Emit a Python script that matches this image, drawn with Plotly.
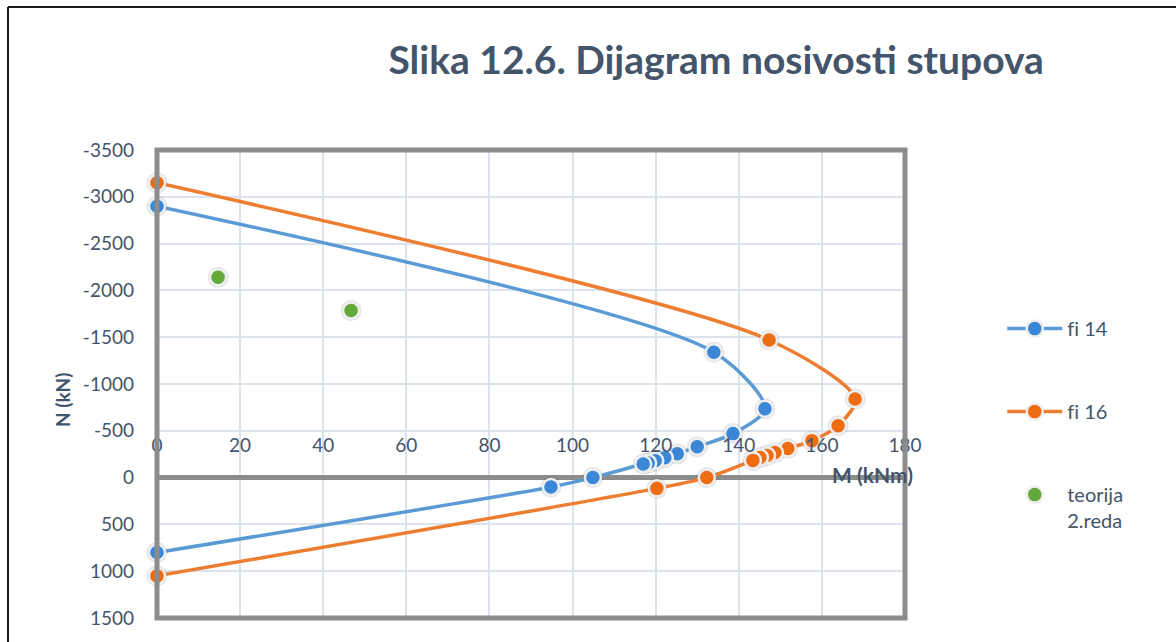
import plotly.graph_objects as go

# Interaction diagram data: bending moment M (kNm) and axial force N (kN)
fi14_M = [0, 134.0, 146.3, 138.6, 130.0, 125.2, 122.2, 119.9, 118.2, 117.0, 104.9, 94.8, 0]
fi14_N = [-2900, -1340, -735, -470, -330, -255, -212, -180, -155, -145, 0, 100, 800]

fi16_M = [0, 147.3, 168.0, 163.9, 157.6, 151.8, 148.7, 146.8, 145.1, 143.4, 132.3, 120.3, 0]
fi16_N = [-3150, -1470, -840, -555, -395, -310, -268, -236, -214, -184, 0, 115, 1050]

t2_M = [14.7, 46.7]
t2_N = [-2140, -1785]

x_ticks = [0, 20, 40, 60, 80, 100, 120, 140, 160, 180]
y_ticks = [-3500, -3000, -2500, -2000, -1500, -1000, -500, 0, 500, 1000, 1500]
y_labels = [str(v) for v in y_ticks]

TEXT = "#44546a"
FONT = "Lato"
BLUE_LINE, BLUE_MK = "#5b9bd5", "#3a87d8"
ORANGE_LINE, ORANGE_MK = "#ed7d31", "#ee6c12"
GREEN_MK = "#62a83a"

fig = go.Figure()

# soft halo behind each marker
for mx, ny in [(fi14_M, fi14_N), (fi16_M, fi16_N), (t2_M, t2_N)]:
    fig.add_trace(go.Scatter(
        x=mx, y=ny, mode="markers", showlegend=False, hoverinfo="skip",
        cliponaxis=False,
        marker=dict(size=21, color="rgba(0,0,0,0.10)", line=dict(width=0)),
    ))

fig.add_trace(go.Scatter(
    x=fi14_M, y=fi14_N, name="f\u200ci 14", mode="lines+markers", legendgroup="a",
    cliponaxis=False,
    line=dict(color=BLUE_LINE, width=3.5, shape="spline", smoothing=0.8),
    marker=dict(size=16, color=BLUE_MK, line=dict(color="#eeeeee", width=2.5)),
))
fig.add_trace(go.Scatter(
    x=fi16_M, y=fi16_N, name="f\u200ci 16", mode="lines+markers", legendgroup="b",
    cliponaxis=False,
    line=dict(color=ORANGE_LINE, width=3.5, shape="spline", smoothing=0.8),
    marker=dict(size=16, color=ORANGE_MK, line=dict(color="#eeeeee", width=2.5)),
))
fig.add_trace(go.Scatter(
    x=t2_M, y=t2_N, name="teorija<br>2.reda", mode="markers", legendgroup="c",
    cliponaxis=False,
    marker=dict(size=16, color=GREEN_MK, line=dict(color="#eeeeee", width=2.5)),
))

fig.update_layout(
    width=1176, height=642,
    margin=dict(l=157, r=271, t=150, b=24),
    paper_bgcolor="white", plot_bgcolor="white",
    font=dict(family=FONT, size=18, color=TEXT),
    title=dict(
        text="<b>Slika 12.6. Dijagram nosivosti stupova</b>",
        x=0.609, xanchor="center", y=0.906, yanchor="middle",
        font=dict(family=FONT, size=39, color=TEXT),
    ),
    xaxis=dict(
        range=[0, 180], tickvals=x_ticks, showgrid=True,
        gridcolor="#dde3ec", gridwidth=1.5, zeroline=False, showline=False,
        anchor="free", position=0.397, side="bottom", ticks="",
        tickfont=dict(family=FONT, size=19, color=TEXT),
    ),
    yaxis=dict(
        range=[1500, -3500], tickvals=y_ticks, ticktext=y_labels, showgrid=True,
        gridcolor="#dde3ec", gridwidth=1.5,
        zeroline=True, zerolinecolor="#8c8c8c", zerolinewidth=5,
        showline=False, ticks="", ticklabelstandoff=22,
        tickfont=dict(family=FONT, size=19, color=TEXT),
    ),
    legend=dict(
        x=1.13, xanchor="left", y=0.66, yanchor="top",
        tracegroupgap=54, valign="top", itemwidth=55,
        font=dict(family=FONT, size=20, color=TEXT),
        bgcolor="rgba(0,0,0,0)",
    ),
    showlegend=True,
)

# plot-area frame
fig.add_shape(type="rect", xref="paper", yref="paper", x0=0, x1=1, y0=0, y1=1,
              line=dict(color="#8c8c8c", width=5), layer="above")
# outer chart border (top and left edges)
fig.add_shape(type="line", xref="paper", yref="paper",
              x0=-0.1992, x1=1.37, y0=1.3056, y1=1.3056,
              line=dict(color="#1a1a1a", width=2))
fig.add_shape(type="line", xref="paper", yref="paper",
              x0=-0.1992, x1=-0.1992, y0=1.3056, y1=-0.06,
              line=dict(color="#1a1a1a", width=2))

# axis titles
fig.add_annotation(text="<b>M (kNm)</b>", xref="paper", yref="y", x=0.957, y=-35,
                   xanchor="center", yanchor="middle", showarrow=False,
                   font=dict(family=FONT, size=21, color=TEXT))
fig.add_annotation(text="<b>N (kN)</b>", xref="paper", yref="paper",
                   x=-0.127, y=(618 - 400) / 468, textangle=-90,
                   xanchor="center", yanchor="middle", showarrow=False,
                   font=dict(family=FONT, size=19, color=TEXT))

fig.write_html("out.html")
